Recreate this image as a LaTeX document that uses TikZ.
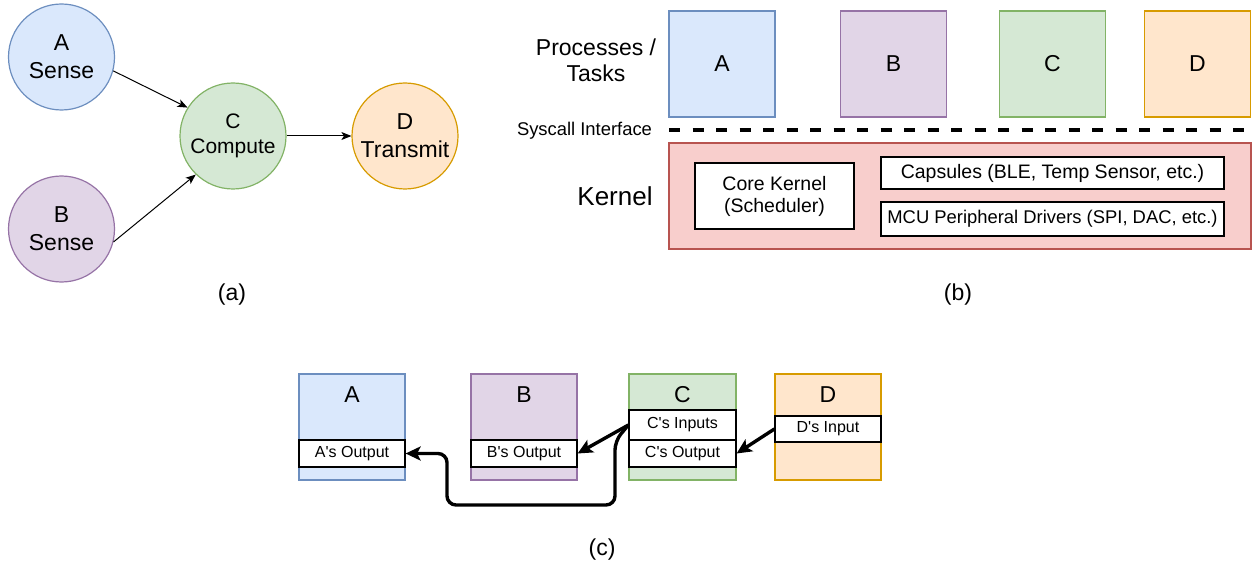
\documentclass[tikz,border=0pt]{standalone}
\usepackage{fontspec}
\setmainfont{Liberation Sans}
\usetikzlibrary{arrows.meta}

\definecolor{blueF}{HTML}{DAE8FC}\definecolor{blueD}{HTML}{6C8EBF}
\definecolor{purpF}{HTML}{E1D5E7}\definecolor{purpD}{HTML}{9673A6}
\definecolor{greenF}{HTML}{D5E8D4}\definecolor{greenD}{HTML}{82B366}
\definecolor{orangeF}{HTML}{FFE6CC}\definecolor{orangeD}{HTML}{D79B00}
\definecolor{redF}{HTML}{F8CECC}\definecolor{redD}{HTML}{B85450}

\tikzset{
  procA/.style={fill=blueF, draw=blueD},
  procB/.style={fill=purpF, draw=purpD},
  procC/.style={fill=greenF, draw=greenD},
  procD/.style={fill=orangeF, draw=orangeD},
  circ/.style={circle, line width=1.2pt, minimum size=106pt, inner sep=0pt,
    align=center, font=\fontsize{23}{28}\selectfont},
  task/.style={rectangle, line width=1.2pt, minimum width=106pt,
    minimum height=106pt, inner sep=0pt},
  big/.style={font=\fontsize{23}{28}\selectfont},
  wbox/.style={rectangle, draw=black, fill=white, line width=1.2pt,
    inner sep=0pt, align=center},
  slot/.style={wbox, minimum width=106pt, font=\fontsize{16}{18}\selectfont},
  caption/.style={font=\fontsize{23}{26}\selectfont},
  flow/.style={-{Stealth[length=10pt,width=8pt,inset=2.5pt]}, line width=1pt},
  pipe/.style={-{Stealth[length=15pt,width=14pt,inset=3.5pt]}, line width=3.4pt,
    line join=round},
}
\newcommand{\sq}{\textquotesingle}

\begin{document}
\begin{tikzpicture}[x=1pt, y=-1pt]
\useasboundingbox (0,0) rectangle (1252,564);

% ---------- (a) data-flow graph ----------
\node[circ, procA] (na) at (61.5,57) {A\\Sense};
\node[circ, procB] (nb) at (61.5,229) {B\\Sense};
\node[circ, procC, font=\fontsize{21}{25}\selectfont] (nc) at (233,136) {C\\Compute};
\node[circ, procD] (nd) at (405,136) {D\\Transmit};
\draw[flow] (na.-15) -- (nc.148);
\draw[flow] (nb.-14) -- (nc.226);
\draw[flow] (nc.east) -- (nd.west);
\node[caption] (capa) at (232,295) {(a)};

% ---------- (b) system layers ----------
\node[align=center, font=\fontsize{23}{26}\selectfont] (proclbl) at (596,60) {Processes /\\Tasks};
\node[task, procA, big] (pa) at (722,64) {A};
\node[task, procB, big] (pb) at (893.5,64) {B};
\node[task, procC, big] (pc) at (1052.5,64) {C};
\node[task, procD, big] (pd) at (1197.5,64) {D};

\node[font=\fontsize{18.4}{22}\selectfont] (syslbl) at (584.5,131) {Syscall Interface};
\coordinate (sysL) at (669,130);
\coordinate (sysR) at (1252,130);
\draw[line width=4pt, dash pattern=on 11pt off 12.5pt] (sysL) -- (sysR);

\node[rectangle, fill=redF, draw=redD, line width=1.2pt, minimum width=582pt,
  minimum height=106pt] (kern) at (960,196) {};
\node[font=\fontsize{26}{30}\selectfont] (kernlbl) at (615,196) {Kernel};
\node[wbox, minimum width=159pt, minimum height=66pt,
  font=\fontsize{19.5}{22}\selectfont] (core) at (774.5,196) {Core Kernel\\(Scheduler)};
\node[wbox, minimum width=343pt, minimum height=32pt,
  font=\fontsize{19.5}{22}\selectfont] (caps) at (1052.5,173) {Capsules (BLE, Temp Sensor, etc.)};
\node[wbox, minimum width=343pt, minimum height=34pt,
  font=\fontsize{18.4}{22}\selectfont] (mcu) at (1052.5,219) {MCU Peripheral Drivers (SPI, DAC, etc.)};
\node[caption] (capb) at (958,295) {(b)};

% ---------- (c) shared buffers ----------
\node[task, procA] (ba) at (352,427) {};
\node[task, procB] (bb) at (524,427) {};
\node[task, procC, minimum width=107pt] (bc) at (682.5,427) {};
\node[task, procD] (bd) at (828,427) {};
\node[big] (ta) at (352,395) {A};
\node[big] (tb) at (524,395) {B};
\node[big] (tc) at (682.5,395) {C};
\node[big] (td) at (828,395) {D};

\node[slot, minimum height=27pt] (aout) at (352,453.5) {A\sq s Output};
\node[slot, minimum height=27pt] (bout) at (524,453.5) {B\sq s Output};
\node[slot, minimum width=107pt, minimum height=30pt] (cin) at (682.5,425) {C\sq s Inputs};
\node[slot, minimum width=107pt, minimum height=27pt] (cout) at (682.5,453.5) {C\sq s Output};
\node[slot, minimum height=26pt] (din) at (828,429) {D\sq s Input};

\coordinate (bendA) at (615,441);
\coordinate (bendB) at (615,505);
\coordinate (bendC) at (447,505);
\coordinate (bendD) at (447,453.5);
\draw[pipe] (din.west) -- (cout.east);
\draw[pipe] (cin.west) -- (bout.east);
\draw[pipe, rounded corners=9pt] (cin.west) -- (bendA) -- (bendB) -- (bendC) -- (bendD) -- (aout.east);
\node[caption] (capc) at (602,550) {(c)};
\end{tikzpicture}
\end{document}
